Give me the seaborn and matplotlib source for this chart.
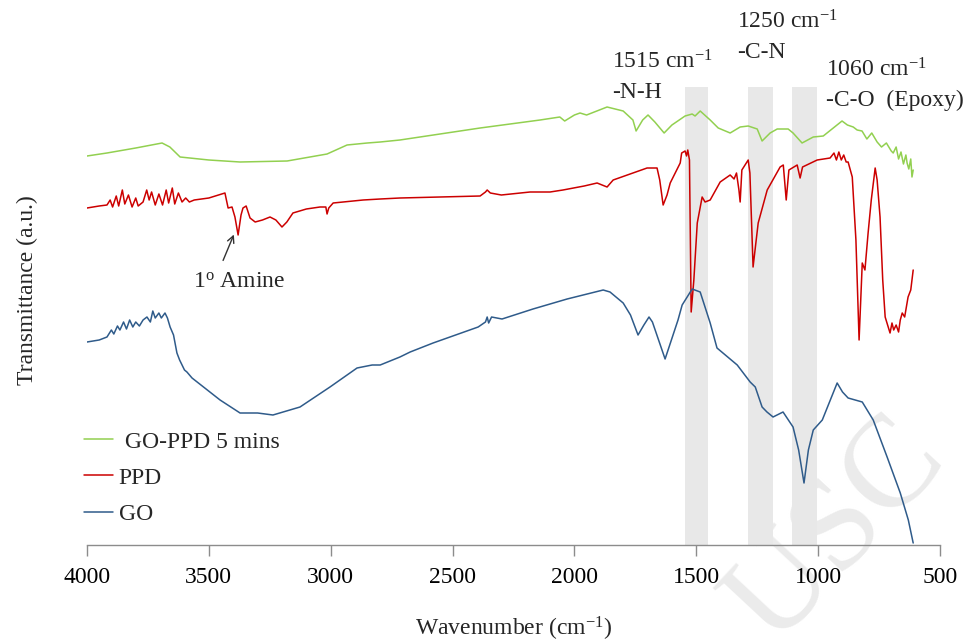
import matplotlib
matplotlib.use("Agg")
import matplotlib.pyplot as plt
import seaborn as sns
import pandas as pd

# ---------------- data (wavenumber cm-1, transmittance a.u.) ----------------
go_ppd_wn = [4000, 3918, 3800, 3692, 3660, 3618, 3500, 3372, 3179, 3015, 2933, 2850,
             2797, 2716, 2387, 2141, 2060, 2040, 2000, 1977, 1950, 1866, 1800, 1760,
             1747, 1720, 1698, 1670, 1632, 1600, 1546, 1517, 1505, 1484, 1443, 1410,
             1361, 1320, 1287, 1250, 1230, 1197, 1168, 1123, 1103, 1066, 1020, 979,
             902, 880, 856, 840, 820, 800, 780, 758, 740, 720, 700, 692, 680, 670,
             660, 650, 640, 635, 628, 620, 615, 610]
go_ppd_t = [389, 392, 397, 402, 398, 388, 385, 383, 384, 391, 400, 402,
            403, 405, 417, 425, 428, 424, 430, 432, 430, 438, 434, 425,
            414, 425, 430, 423, 412, 420, 429, 431, 429, 434, 425, 417,
            412, 418, 419, 416, 404, 412, 416, 416, 412, 402, 408, 409,
            424, 420, 418, 415, 414, 406, 412, 403, 398, 402, 394, 392, 398, 386,
            393, 381, 390, 382, 376, 386, 368, 375]

ppd_wn = [4000, 3950, 3918, 3905, 3895, 3880, 3870, 3855, 3845, 3830, 3815, 3800,
          3790, 3770, 3755, 3745, 3735, 3720, 3705, 3690, 3675, 3665, 3650, 3640,
          3625, 3610, 3595, 3580, 3560, 3500, 3434, 3421, 3405, 3393, 3380, 3368,
          3360, 3347, 3331, 3310, 3280, 3249, 3225, 3200, 3180, 3155, 3100, 3044,
          3020, 3015, 3008, 2990, 2867, 2797, 2716, 2387, 2365, 2358, 2345, 2300,
          2182, 2100, 2047, 1960, 1907, 1866, 1841, 1760, 1702, 1661, 1650, 1636,
          1620, 1607, 1566, 1560, 1546, 1540, 1535, 1528, 1521, 1510, 1496, 1476,
          1464, 1443, 1402, 1361, 1345, 1335, 1325, 1320, 1313, 1287, 1280, 1267,
          1246, 1209, 1156, 1143, 1131, 1120, 1086, 1074, 1064, 1004, 951, 935,
          925, 915, 905, 895, 885, 877, 860, 845, 832, 819, 808, 795,
          782, 766, 758, 746, 735, 725, 715, 705, 697, 690, 680, 670,
          663, 655, 645, 631, 620, 610]
ppd_t = [337, 339, 340, 345, 338, 349, 339, 355, 341, 350, 338, 347,
         339, 343, 355, 345, 353, 340, 351, 340, 355, 342, 357, 341,
         352, 343, 347, 343, 345, 347, 352, 337, 338, 328, 310, 330,
         337, 339, 327, 323, 325, 328, 325, 318, 323, 332, 336, 338,
         338, 331, 337, 342, 345, 346, 347, 349, 353, 355, 352, 350,
         353, 353, 355, 359, 362, 358, 365, 372, 377, 377, 365, 340,
         350, 362, 382, 392, 394, 389, 395, 385, 233, 265, 322, 348,
         343, 345, 363, 370, 366, 372, 355, 343, 375, 385, 372, 278,
         322, 355, 378, 380, 345, 375, 380, 367, 378, 385, 387, 392,
         385, 393, 385, 390, 383, 383, 368, 305, 205, 282, 275, 312,
         345, 377, 365, 328, 265, 228, 220, 212, 222, 215, 220, 213,
         225, 232, 228, 248, 255, 275]

go_wn = [4000, 3950, 3918, 3900, 3890, 3875, 3865, 3850, 3838, 3825, 3812, 3800,
         3785, 3770, 3754, 3740, 3730, 3720, 3705, 3695, 3680, 3670, 3659, 3645,
         3631, 3620, 3600, 3590, 3569, 3454, 3372, 3300, 3237, 3126, 3003, 2892,
         2830, 2797, 2716, 2674, 2580, 2395, 2365, 2358, 2352, 2340, 2297, 2170,
         2030, 1882, 1854, 1800, 1770, 1739, 1715, 1694, 1680, 1628, 1575, 1558,
         1540, 1517, 1484, 1443, 1415, 1332, 1279, 1258, 1230, 1210, 1185, 1144,
         1103, 1080, 1058, 1040, 1020, 983, 922, 900, 877, 819, 774, 717,
         663, 630, 610]
go_t = [203, 205, 208, 215, 211, 219, 215, 223, 216, 225, 218, 223,
        219, 225, 228, 223, 234, 227, 232, 227, 232, 227, 218, 210,
        192, 185, 175, 173, 167, 145, 132, 132, 130, 138, 158, 177,
        180, 180, 188, 193, 202, 218, 223, 228, 222, 228, 226, 236,
        246, 255, 253, 242, 230, 210, 220, 228, 223, 186, 225, 240,
        247, 256, 253, 222, 197, 180, 163, 158, 138, 133, 128, 133,
        118, 95, 62, 95, 115, 125, 162, 153, 147, 143, 125, 88,
        52, 25, 2]

series_labels = ["GO-PPD 5 mins", "PPD", "GO"]
series_colors = ["#92D050", "#CC0000", "#2F5B8A"]
band_ranges = [(1546, 1452), (1288, 1185), (1107, 1005)]
x_ticks = [4000, 3500, 3000, 2500, 2000, 1500, 1000, 500]

# ---------------- styling ----------------
sns.set_theme(style="white")
plt.rcParams["font.family"] = ["Liberation Serif", "DejaVu Serif"]
plt.rcParams["mathtext.fontset"] = "custom"
plt.rcParams["mathtext.rm"] = "Liberation Serif"
plt.rcParams["mathtext.it"] = "Liberation Serif:italic"
plt.rcParams["mathtext.bf"] = "Liberation Serif:bold"
FS = 17

fig = plt.figure(figsize=(9.68, 6.42), dpi=100)
ax = fig.add_axes([87 / 968, 97 / 642, 853 / 968, 545 / 642])
ax.set_facecolor("none")

# faint watermark behind everything
fig.text(838 / 968, 1 - 532 / 642, "USC", fontsize=95, color="#ebebeb",
         rotation=47, ha="center", va="center", rotation_mode="anchor", zorder=-5)

for lo, hi in band_ranges:
    ax.axvspan(hi, lo, ymin=0, ymax=(545 - 87) / 545, color="#e8e8e8", lw=0, zorder=0)

frames = [
    pd.DataFrame({"wn": go_ppd_wn, "t": go_ppd_t}),
    pd.DataFrame({"wn": ppd_wn, "t": ppd_t}),
    pd.DataFrame({"wn": go_wn, "t": go_t}),
]
for df, lab, col in zip(frames, series_labels, series_colors):
    sns.lineplot(data=df, x="wn", y="t", color=col, lw=1.1, label=lab, ax=ax,
                 estimator=None, zorder=3)

ax.set_xlim(4000, 500)
ax.set_ylim(0, 545)
ax.set_xticks(x_ticks)
ax.set_xticklabels([str(v) for v in x_ticks], fontsize=FS)
ax.set_yticks([])
for s in ["top", "left", "right"]:
    ax.spines[s].set_visible(False)
ax.spines["bottom"].set_color("#8c8c8c")
ax.spines["bottom"].set_linewidth(1.0)
ax.tick_params(axis="x", direction="out", length=8, width=1, color="#8c8c8c",
               pad=8, labelcolor="black", bottom=True)
ax.set_xlabel("Wavenumber (cm$^{-1}$)", fontsize=FS, labelpad=19)
ax.set_ylabel("")
fig.text(27 / 968, 1 - 290 / 642, "Transmittance (a.u.)", fontsize=FS, rotation=90,
         ha="center", va="center")

# annotations
ax.text(1845, 545 - 62, "1515 cm$^{-1}$", fontsize=FS, ha="left", va="center")
ax.text(1845, 545 - 92, "-N-H", fontsize=FS, ha="left", va="center")
ax.text(1332, 545 - 22, "1250 cm$^{-1}$", fontsize=FS, ha="left", va="center")
ax.text(1332, 545 - 52, "-C-N", fontsize=FS, ha="left", va="center")
ax.text(967, 545 - 70, "1060 cm$^{-1}$", fontsize=FS, ha="left", va="center")
ax.text(967, 545 - 100, "-C-O  (Epoxy)", fontsize=FS, ha="left", va="center")
ax.annotate("", xy=(3393, 313), xytext=(3446, 282),
            arrowprops=dict(arrowstyle="->", color="#333333", lw=1.0))
ax.text(3376, 545 - 282, "1$^{\\mathrm{o}}$ Amine", fontsize=FS, ha="center", va="center")

leg = ax.legend(loc="upper left", bbox_to_anchor=(-0.003, (545 - 431) / 545),
                frameon=False, fontsize=FS, handlelength=1.2, handletextpad=0.25,
                labelspacing=0.62, borderpad=0, borderaxespad=0)
leg.get_texts()[0].set_text(" GO-PPD 5 mins")

fig.savefig("out.png", dpi=100)
